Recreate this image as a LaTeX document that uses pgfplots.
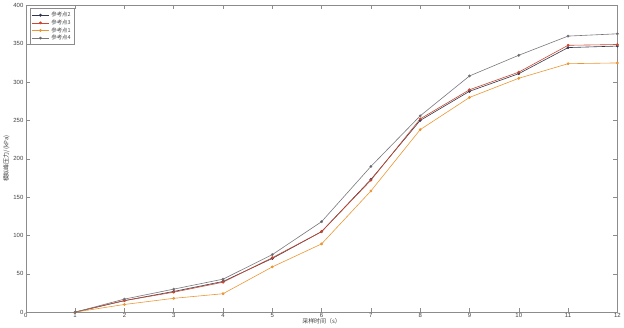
\documentclass[border=0pt]{standalone}
\usepackage{fontspec}
\setmainfont{Liberation Sans}
\newfontfamily\cjk{Noto Sans CJK SC}
\usepackage{pgfplots}
\pgfplotsset{compat=1.18}
\definecolor{cA}{RGB}{50,55,75}
\definecolor{cB}{RGB}{205,70,45}
\definecolor{cC}{RGB}{235,150,50}
\definecolor{cD}{RGB}{120,120,125}
\begin{document}
\begin{tikzpicture}
\begin{axis}[
  scale only axis,
  width=594pt, height=308pt,
  xmin=0, xmax=12, ymin=0, ymax=400,
  xtick={0,1,...,12},
  ytick={0,50,...,400},
  tick align=inside,
  major tick length=4pt,
  axis line style={draw=gray!90, line width=0.6pt},
  tick style={gray!90, line width=0.5pt},
  ticklabel style={font=\fontsize{6}{7}\selectfont, text=black!75},
  /pgf/number format/assume math mode=true,
  xlabel={\cjk 采样时间（s）},
  ylabel={\cjk 模拟峰压力/(kPa)},
  label style={font=\fontsize{6}{7}\selectfont, text=black!75},
  xlabel style={yshift=6pt},
  ylabel style={yshift=-3pt},
  xticklabel style={yshift=2pt},
  yticklabel style={xshift=1pt},
  legend style={at={(rel axis cs:0.007,0.99)}, anchor=north west,
    font=\fontsize{5.5}{6.5}\selectfont\cjk, text=black!70, draw=gray!90, line width=0.4pt,
    row sep=-2.5pt, inner sep=1.5pt},
  legend image code/.code={
    \draw[mark repeat=2,mark phase=2] plot coordinates {(0cm,0cm) (0.3cm,0cm) (0.6cm,0cm)};},
  legend cell align=left,
  every axis plot/.append style={line width=0.6pt, mark size=1.1pt},
]
\addplot[color=cA, mark=*, mark options={fill=cA!70!blue}] coordinates {
(1,0) (2,15) (3,27) (4,40) (5,70) (6,105) (7,173) (8,250) (9,288) (10,311) (11,345) (12,347)};
\addlegendentry{参考点2}
\addplot[color=cB, mark=*] coordinates {
(1,0) (2,15) (3,26) (4,39) (5,71) (6,105) (7,172) (8,252) (9,290) (10,313) (11,348) (12,349)};
\addlegendentry{参考点3}
\addplot[color=cC, mark=*] coordinates {
(1,0) (2,10) (3,18) (4,24) (5,59) (6,89) (7,158) (8,238) (9,280) (10,305) (11,324) (12,325)};
\addlegendentry{参考点1}
\addplot[color=cD, mark=*, mark options={fill=cD!60!black}] coordinates {
(1,0) (2,17) (3,30) (4,43) (5,75) (6,118) (7,190) (8,256) (9,308) (10,335) (11,360) (12,363)};
\addlegendentry{参考点4}
\end{axis}
\end{tikzpicture}
\end{document}
